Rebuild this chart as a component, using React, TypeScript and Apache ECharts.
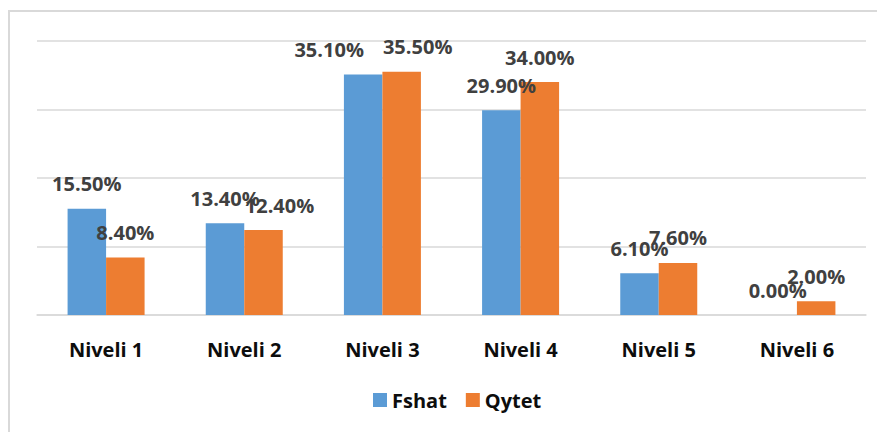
import React, { useEffect, useRef } from "react";
import * as echarts from "echarts";

const categories = ["Niveli 1", "Niveli 2", "Niveli 3", "Niveli 4", "Niveli 5", "Niveli 6"];
const fshat = [15.5, 13.4, 35.1, 29.9, 6.1, 0.0];
const qytet = [8.4, 12.4, 35.5, 34.0, 7.6, 2.0];
const fshatLabelShift = [0, 0, -34, 0, 0, 0];
const qytetLabelShift = [0, 16, 16, 0, 0, 0];

const FONT = "'Open Sans', 'Noto Sans', sans-serif";

export default function App() {
  const ref = useRef<HTMLDivElement>(null);
  useEffect(() => {
    const chart = echarts.init(ref.current!, null, { renderer: "svg" });
    const labelBase = {
      show: true,
      position: "top",
      distance: 15,
      color: "#404040",
      fontFamily: FONT,
      fontWeight: "bold",
      fontSize: 20,
      formatter: (p: any) => p.value.toFixed(2) + "%",
    };
    chart.setOption({
      animation: false,
      backgroundColor: "#ffffff",
      graphic: [
        {
          type: "rect",
          shape: { x: 1, y: 3, width: 1200, height: 1000 },
          style: { fill: "none", stroke: "#d9d9d9", lineWidth: 2 },
          silent: true,
        },
      ],
      grid: { left: 29, right: 19, top: 33, height: 274 },
      legend: {
        left: 365,
        top: 382,
        padding: 0,
        itemWidth: 14,
        itemHeight: 14,
        itemGap: 19,
        icon: "rect",
        textStyle: { fontFamily: FONT, fontWeight: "bold", fontSize: 20, color: "#0d0d0d" },
        data: ["Fshat", "Qytet"],
      },
      xAxis: {
        type: "category",
        data: categories,
        axisLine: { lineStyle: { color: "#d9d9d9", width: 1.5 } },
        axisTick: { show: false },
        axisLabel: {
          margin: 24,
          fontFamily: FONT,
          fontWeight: "bold",
          fontSize: 20,
          color: "#0d0d0d",
        },
      },
      yAxis: {
        type: "value",
        min: 0,
        max: 40,
        interval: 10,
        axisLabel: { show: false },
        axisLine: { show: false },
        axisTick: { show: false },
        splitLine: { lineStyle: { color: "#d9d9d9", width: 1.5 } },
      },
      series: [
        {
          name: "Fshat",
          type: "bar",
          barWidth: 38.5,
          barGap: "0%",
          itemStyle: { color: "#5B9BD5" },
          data: fshat.map((v, i) => ({
            value: v,
            label: { ...labelBase, offset: [fshatLabelShift[i], 0] },
          })),
        },
        {
          name: "Qytet",
          type: "bar",
          barWidth: 38.5,
          barGap: "0%",
          itemStyle: { color: "#ED7D31" },
          data: qytet.map((v, i) => ({
            value: v,
            label: { ...labelBase, offset: [qytetLabelShift[i], 0] },
          })),
        },
      ],
    });
    return () => chart.dispose();
  }, []);
  return <div ref={ref} style={{ width: 877, height: 424 }} />;
}
